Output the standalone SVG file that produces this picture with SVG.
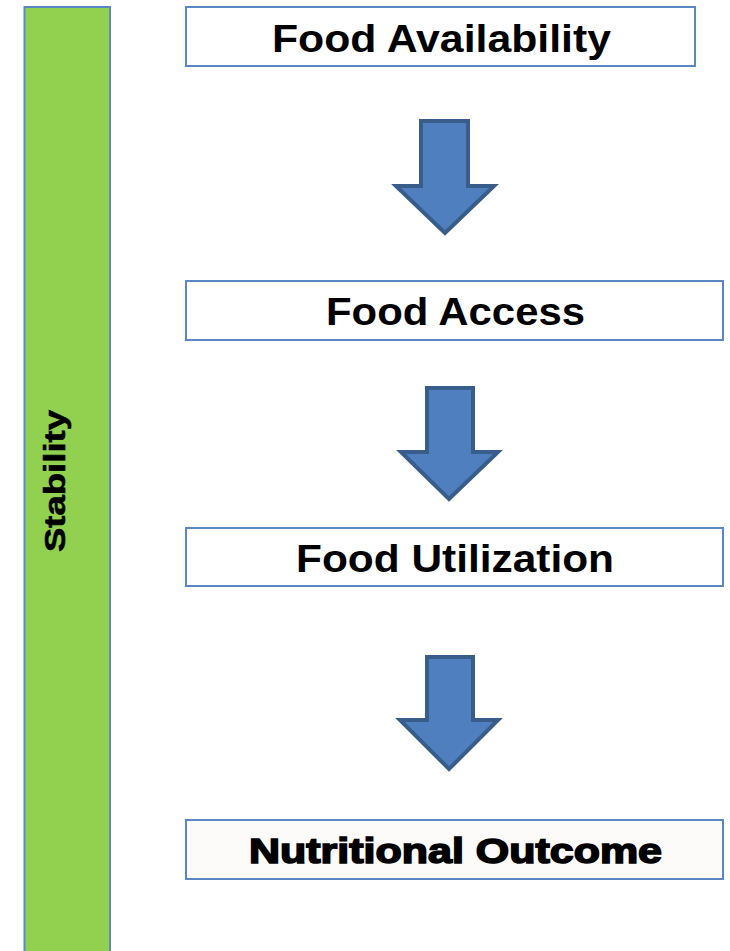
<svg xmlns="http://www.w3.org/2000/svg" width="730" height="951" viewBox="0 0 730 951">
<style>
.box{fill:#FFFFFF;stroke:#5B87C5;stroke-width:2}
.lbl{font-family:"Liberation Sans",Arial,sans-serif;font-weight:bold;fill:#000;text-anchor:middle}
.arr{fill:#4F7FBF;stroke:#385D8A;stroke-width:4;stroke-linejoin:miter}
</style>
<rect width="730" height="951" fill="#FFFFFF"/>
<g id="stability">
<rect x="24.5" y="7" width="85.5" height="950" fill="#92D050" stroke="#5B87C5" stroke-width="2"/>
<text class="lbl" transform="translate(65,481) rotate(-90)" font-size="30" textLength="142" lengthAdjust="spacingAndGlyphs" stroke="#000" stroke-width="0.6">Stability</text>
</g>
<g id="availability">
<rect class="box" x="186" y="7" width="509" height="59"/>
<text class="lbl" x="441.5" y="52" font-size="38" textLength="339" lengthAdjust="spacingAndGlyphs">Food Availability</text>
</g>
<g id="access">
<rect class="box" x="186" y="281" width="537" height="59"/>
<text class="lbl" x="455.5" y="325" font-size="38" textLength="259" lengthAdjust="spacingAndGlyphs">Food Access</text>
</g>
<g id="utilization">
<rect class="box" x="186" y="528" width="537" height="58"/>
<text class="lbl" x="455" y="572" font-size="38" textLength="318" lengthAdjust="spacingAndGlyphs">Food Utilization</text>
</g>
<g id="outcome">
<rect class="box" x="186" y="820" width="537" height="59" style="fill:#FCFBF9"/>
<text class="lbl" x="455.5" y="863" font-size="35" textLength="413" lengthAdjust="spacingAndGlyphs" stroke="#000" stroke-width="1.6">Nutritional Outcome</text>
</g>
<g id="connectors">
<polygon class="arr" points="421,121 468,121 468,186 494,186 445,233 396,186 421,186"/>
<polygon class="arr" points="427,388 473,388 473,452 498,452 449,499 401,452 427,452"/>
<polygon class="arr" points="427,657 473,657 473,720 498,720 449,769 400,720 427,720"/>
</g>
</svg>
